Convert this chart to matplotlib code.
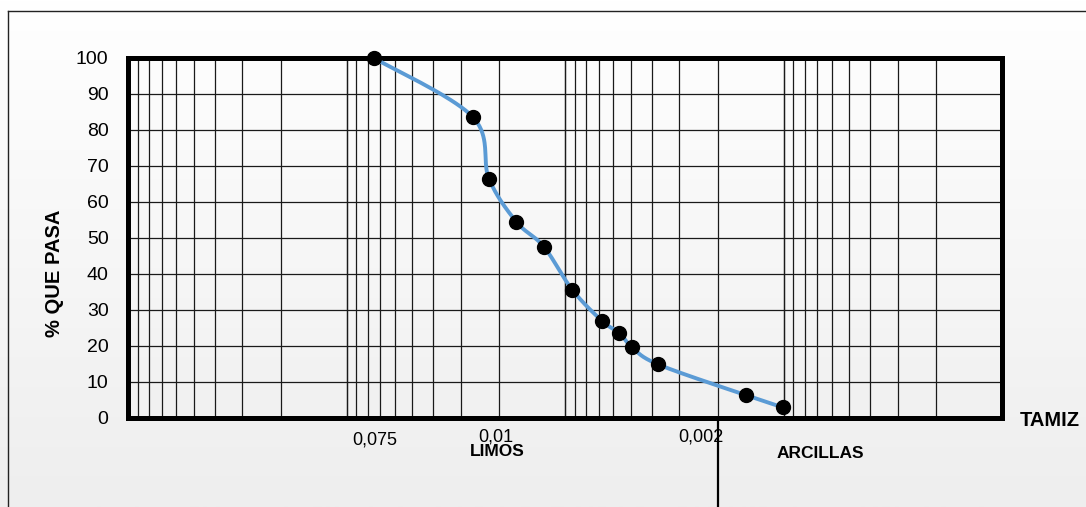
import matplotlib.pyplot as plt
import matplotlib.colors as mcolors
from matplotlib.lines import Line2D
import numpy as np

plt.rcParams['font.family'] = ['Liberation Sans', 'DejaVu Sans']

# Granulometry data (diameter in mm, % passing)
diametro = [0.075, 0.0265, 0.0223, 0.0167, 0.0125, 0.00926, 0.00675,
            0.00564, 0.00494, 0.00375, 0.00148, 0.00101]
pasa = [100, 83.7, 66.5, 54.5, 47.6, 35.6, 26.9, 23.6, 19.7, 14.9, 6.3, 3.0]

y_ticks = list(range(0, 101, 10))
x_lims = (1.0, 0.0001)
limite_arcilla = 0.002

W, H = 1086, 507
fig = plt.figure(figsize=(W / 100, H / 100), dpi=100)

# background gradient
bg = fig.add_axes([0, 0, 1, 1], zorder=-5)
grad = np.linspace(0, 1, 256).reshape(-1, 1)
cmap = mcolors.LinearSegmentedColormap.from_list('bg', ['#ffffff', '#eeeeee'])
bg.imshow(grad, aspect='auto', cmap=cmap, extent=[0, 1, 0, 1], origin='upper')
bg.set_xlim(0, 1)
bg.set_ylim(0, 1)
bg.axis('off')

# outer chart border (cropped at right/bottom)
fig.add_artist(Line2D([8 / W, 8 / W], [1 - 10.5 / H, 0], color='#222222', lw=1.0))
fig.add_artist(Line2D([8 / W, 1], [1 - 10.5 / H, 1 - 10.5 / H], color='#222222', lw=1.0))

ax = fig.add_axes([128 / W, 1 - 418 / H, (1002 - 128) / W, (418 - 58) / H])
ax.set_facecolor('none')
ax.set_xscale('log')
ax.set_xlim(*x_lims)
ax.set_ylim(0, 100)
ax.set_yticks(y_ticks)
ax.set_xticks([])
ax.set_xticks([], minor=True)
ax.tick_params(axis='y', length=0, labelsize=14, pad=14)
ax.tick_params(axis='x', which='both', length=0, labelbottom=False)

# grid
for d in range(0, 4):
    base = 10.0 ** (-d - 1)
    for k in range(1, 11):
        ax.axvline(base * k, color='#1a1a1a', lw=0.9, zorder=1)
for yv in y_ticks:
    ax.axhline(yv, color='#1a1a1a', lw=0.9, zorder=1)

for s in ax.spines.values():
    s.set_linewidth(3.6)
    s.set_color('black')
    s.set_zorder(5)

# Excel-like smooth curve (Bezier, tension 1/6) in screen-like space
u = -np.log10(diametro) * 218.5
v = np.array(pasa) * 3.6
P = np.column_stack([u, v])
n = len(P)
curve = []
t = np.linspace(0, 1, 40)
for i in range(n - 1):
    p0 = P[max(i - 1, 0)]
    p1 = P[i]
    p2 = P[i + 1]
    p3 = P[min(i + 2, n - 1)]
    c1 = p1 + (p2 - p0) / 6
    c2 = p2 - (p3 - p1) / 6
    seg = ((1 - t) ** 3)[:, None] * p1 + (3 * (1 - t) ** 2 * t)[:, None] * c1 \
        + (3 * (1 - t) * t ** 2)[:, None] * c2 + (t ** 3)[:, None] * p2
    curve.append(seg)
curve = np.vstack(curve)
cx = 10 ** (-curve[:, 0] / 218.5)
cy = curve[:, 1] / 3.6
ax.plot(cx, cy, color='#5B9BD5', lw=2.8, zorder=6, clip_on=False)
ax.plot(diametro, pasa, 'o', color='black', markersize=10, zorder=7, clip_on=False)

# clay limit line below axis
ax.plot([limite_arcilla, limite_arcilla], [0, -25], color='black', lw=1.6,
        clip_on=False, zorder=6)

# labels
fig.text(55 / W, 1 - 273 / H, '% QUE PASA', rotation=90, ha='center', va='center',
         fontsize=14.5, fontweight='bold')
fig.text(375 / W, 1 - 440 / H, '0,075', ha='center', va='center', fontsize=13)
fig.text(496 / W, 1 - 436.5 / H, '0,01', ha='center', va='center', fontsize=13)
fig.text(497 / W, 1 - 452 / H, 'LIMOS', ha='center', va='center', fontsize=12.5,
         fontweight='bold')
fig.text(701 / W, 1 - 436.5 / H, '0,002', ha='center', va='center', fontsize=13)
fig.text(820 / W, 1 - 454 / H, 'ARCILLAS', ha='center', va='center', fontsize=12.5,
         fontweight='bold')
fig.text(1050 / W, 1 - 421 / H, 'TAMIZ', ha='center', va='center', fontsize=14.5,
         fontweight='bold')

fig.savefig('out.png', dpi=100)
